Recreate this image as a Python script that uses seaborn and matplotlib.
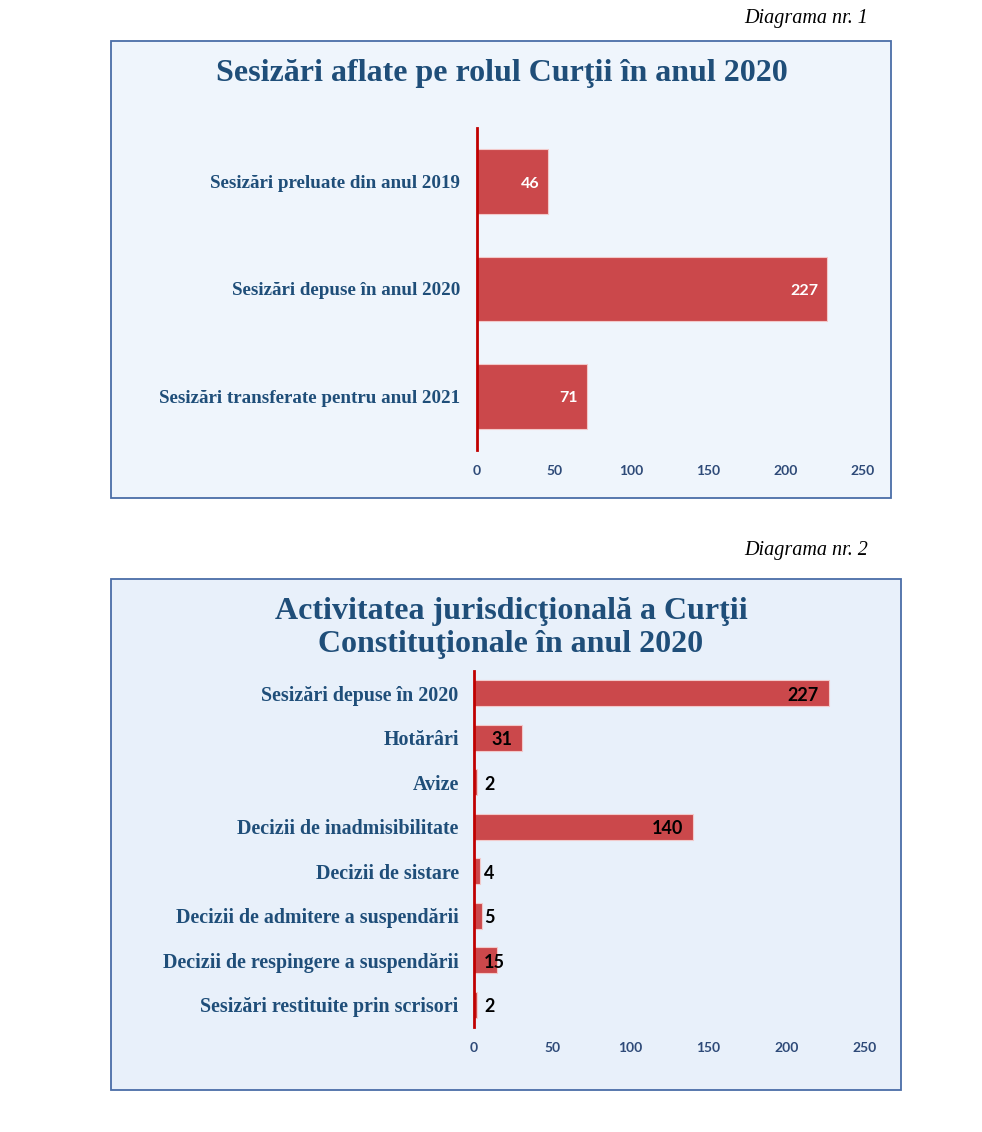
import pandas as pd
import numpy as np
import matplotlib.pyplot as plt
import seaborn as sns
from matplotlib.patches import Rectangle

sns.set_theme(style="white")
plt.rcParams['font.family'] = ['Liberation Serif', 'DejaVu Serif']

# data
cats1 = ['Sesizări preluate din anul 2019', 'Sesizări depuse în anul 2020',
         'Sesizări transferate pentru anul 2021']
vals1 = [46, 227, 71]

cats2 = ['Sesizări depuse în 2020', 'Hotărâri', 'Avize', 'Decizii de inadmisibilitate',
         'Decizii de sistare', 'Decizii de admitere a suspendării',
         'Decizii de respingere a suspendării', 'Sesizări restituite prin scrisori']
vals2 = [227, 31, 2, 140, 4, 5, 15, 2]

xticks = [0, 50, 100, 150, 200, 250]

title1 = 'Sesizări aflate pe rolul Curţii în anul 2020'
title2 = 'Activitatea jurisdicţională a Curţii\nConstituţionale în anul 2020'

bar_color = '#CB484B'
axis_red = '#C00000'
navy = '#1F4E79'
tick_blue = '#2E4A78'
border = '#4A6DA7'

W, H = 982, 1132
fig = plt.figure(figsize=(W / 100, H / 100), dpi=100)
fig.patch.set_facecolor('white')


def fx(px):
    return px / W


def fy(py):
    return 1 - py / H


# panel boxes
fig.add_artist(Rectangle((fx(111), fy(498)), fx(891) - fx(111), (498 - 41) / H,
                         transform=fig.transFigure, facecolor='#EFF5FC',
                         edgecolor=border, linewidth=1.3, zorder=0))
fig.add_artist(Rectangle((fx(111), fy(1090)), fx(901) - fx(111), (1090 - 579) / H,
                         transform=fig.transFigure, facecolor='#E8F0FA',
                         edgecolor=border, linewidth=1.3, zorder=0))

fig.text(fx(868), fy(18), 'Diagrama nr. 1', ha='right', va='center',
         fontsize=14.5, style='italic', color='black')
fig.text(fx(868), fy(551), 'Diagrama nr. 2', ha='right', va='center',
         fontsize=14.5, style='italic', color='black')

fig.text(fx(502), fy(74), title1, ha='center', va='center', fontsize=23,
         fontweight='bold', color=navy)
fig.text(fx(511), fy(628), title2, ha='center', va='center', fontsize=23,
         fontweight='bold', color=navy, linespacing=1.2)


def style_axis(ax, ypad, lsize):
    ax.set_facecolor('none')
    ax.set_xlim(0, 250)
    ax.set_xticks(xticks)
    for s in ['top', 'right', 'bottom']:
        ax.spines[s].set_visible(False)
    ax.spines['left'].set_color(axis_red)
    ax.spines['left'].set_linewidth(2)
    ax.spines['left'].set_zorder(5)
    ax.set_xlabel('')
    ax.set_ylabel('')
    ax.tick_params(axis='both', length=0)
    ax.tick_params(axis='x', pad=11)
    ax.tick_params(axis='y', pad=ypad)
    for t in ax.get_xticklabels():
        t.set_family(['Lato', 'DejaVu Sans'])
        t.set_fontweight('bold')
        t.set_fontsize(10)
        t.set_color(tick_blue)
    for t in ax.get_yticklabels():
        t.set_fontweight('bold')
        t.set_fontsize(lsize)
        t.set_color(navy)
    ax.grid(False)


# chart 1
df1 = pd.DataFrame({'cat': cats1, 'val': vals1})
ax1 = fig.add_axes([fx(477), fy(450), fx(863) - fx(477), (450 - 128) / H])
sns.barplot(data=df1, x='val', y='cat', color=bar_color, saturation=1,
            width=0.6, edgecolor='#F2C9CA', linewidth=0.8, ax=ax1)
ax1.set_ylim(2.5, -0.5)
style_axis(ax1, 12, 13.7)
for i, v in enumerate(vals1):
    ax1.annotate(str(v), (v, i), xytext=(-9, -2), textcoords='offset pixels',
                 ha='right', va='center', fontsize=11.5, fontweight='bold',
                 color='white', family=['Lato', 'DejaVu Sans'])

# chart 2
df2 = pd.DataFrame({'cat': cats2, 'val': vals2})
ax2 = fig.add_axes([fx(474), fy(1027), fx(865) - fx(474), (1027 - 671) / H])
sns.barplot(data=df2, x='val', y='cat', color=bar_color, saturation=1,
            width=0.58, edgecolor='#F2C9CA', linewidth=0.8, ax=ax2)
ax2.set_ylim(7.5, -0.5)
style_axis(ax2, 11, 14.4)
for i, v in enumerate(vals2):
    if v >= 20:
        ax2.annotate(str(v), (v, i), xytext=(-10, -2), textcoords='offset pixels',
                     ha='right', va='center', fontsize=13, fontweight='bold',
                     color='black', family=['Lato', 'DejaVu Sans'])
    else:
        ax2.annotate(str(v), (0, i), xytext=(10, -2), textcoords='offset pixels',
                     ha='left', va='center', fontsize=13, fontweight='bold',
                     color='black', family=['Lato', 'DejaVu Sans'])

fig.savefig('out.png', dpi=100)
